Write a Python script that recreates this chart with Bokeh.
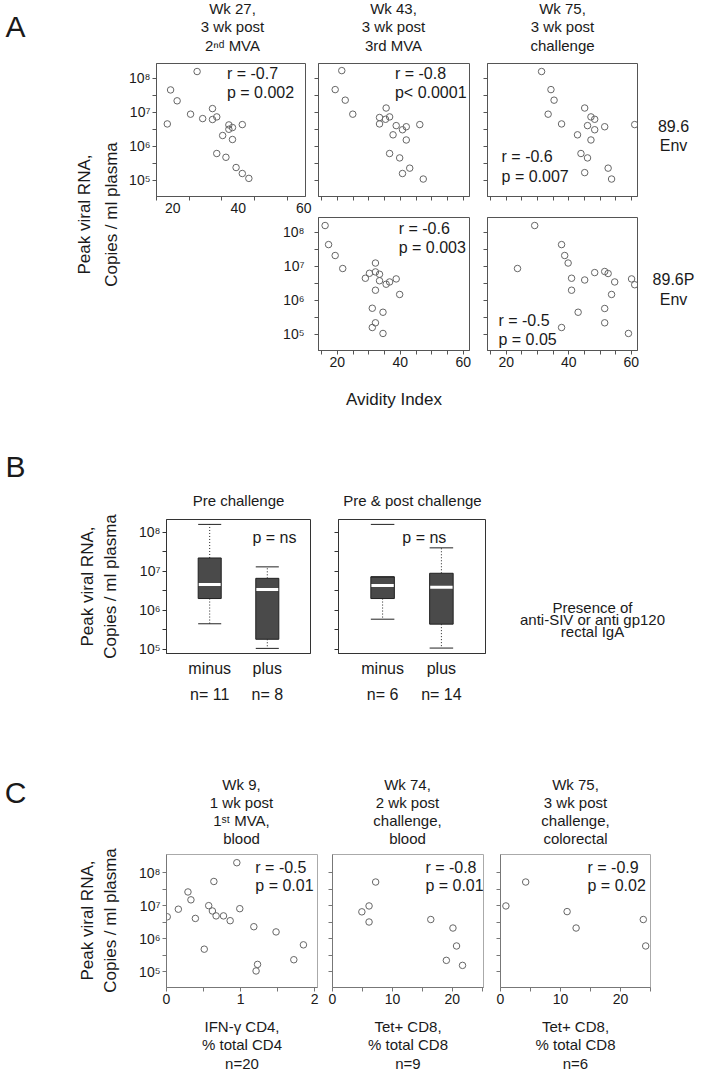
import math
from bokeh.plotting import figure
from bokeh.layouts import row, column
from bokeh.models import (Range1d, FactorRange, FixedTicker, Spacer, Label,
                          ColumnDataSource, CustomJSTickFormatter)
from bokeh.embed import file_html
from bokeh.resources import INLINE

FONT = "Liberation Sans"
TXT = "#1a1a1a"

# ---------------- data ----------------
# Panel A : avidity index vs peak viral RNA (copies / ml plasma)
a_wk27_896_avidity = [27.4, 19.3, 21.3, 18.3, 25.4, 29.1, 32.1, 32.1, 33.4, 35.2,
                      37.1, 37.1, 38.2, 38.2, 41.2, 33.4, 36.2, 39.3, 41.2, 43.2]
a_wk27_896_rna = [1.6e8, 4.6e7, 2.2e7, 4.6e6, 8.9e6, 6.6e6, 1.3e7, 6.2e6, 7.4e6, 2.1e6,
                  4.3e6, 3.2e6, 3.6e6, 1.6e6, 4.4e6, 6.2e5, 4.8e5, 2.4e5, 1.6e5, 1.15e5]

a_wk43_896_avidity = [21.4, 19.3, 22.5, 24.9, 35.5, 33.4, 33.4, 35.3, 36.6, 38.7,
                      40.7, 41.9, 37.7, 41.9, 46.2, 36.6, 39.8, 43.0, 40.7, 47.3]
a_wk43_896_rna = [1.7e8, 4.7e7, 2.3e7, 8.9e6, 1.35e7, 7.1e6, 4.6e6, 6.3e6, 7.4e6, 4.1e6,
                  3.1e6, 3.8e6, 2.2e6, 1.55e6, 4.4e6, 6.2e5, 4.6e5, 2.3e5, 1.6e5, 1.1e5]

a_wk75_896_avidity = [31.3, 34.3, 35.3, 33.4, 37.7, 45.1, 47.1, 48.3, 46.0, 48.3,
                      51.5, 61.1, 42.8, 47.1, 43.9, 46.0, 45.1, 52.6, 53.7]
a_wk75_896_rna = [1.6e8, 4.7e7, 2.3e7, 8.9e6, 4.6e6, 1.35e7, 7.4e6, 6.3e6, 4.1e6, 3.1e6,
                  3.8e6, 4.4e6, 2.2e6, 1.55e6, 6.2e5, 4.6e5, 1.7e5, 2.3e5, 1.1e5]

a_wk43_896p_avidity = [16.1, 17.2, 19.3, 21.7, 32.1, 30.2, 28.9, 32.1, 33.4, 33.4,
                       35.5, 36.6, 38.7, 32.1, 39.8, 31.1, 34.5, 32.1, 31.1, 34.5]
a_wk43_896p_rna = [1.6e8, 4.4e7, 2.1e7, 8.7e6, 1.26e7, 6.3e6, 4.5e6, 6.9e6, 5.9e6, 3.8e6,
                   3.0e6, 3.5e6, 4.3e6, 2.0e6, 1.5e6, 5.9e5, 4.5e5, 2.2e5, 1.6e5, 1.07e5]

a_wk75_896p_avidity = [29.1, 37.7, 38.7, 39.8, 23.6, 40.9, 40.9, 45.1, 48.3, 51.5,
                       52.6, 54.7, 60.1, 61.1, 53.7, 51.5, 43.0, 51.5, 37.7, 59.1]
a_wk75_896p_rna = [1.6e8, 4.4e7, 2.1e7, 1.26e7, 8.7e6, 4.5e6, 2.0e6, 4.0e6, 6.6e6, 7.1e6,
                   6.2e6, 3.5e6, 4.3e6, 2.9e6, 1.5e6, 5.8e5, 4.5e5, 2.2e5, 1.6e5, 1.07e5]

a_stats = [("r = -0.7", "p = 0.002"), ("r = -0.8", "p< 0.0001"), ("r = -0.6", "p = 0.007"),
           ("r = -0.6", "p = 0.003"), ("r = -0.5", "p = 0.05")]

# Panel B : box plots, presence of rectal IgA (minus / plus)
b_pre_groups = [("n= 11", "minus"), ("n= 8", "plus")]
b_pre_low = [4.5e5, 1.05e5]
b_pre_q1 = [2.0e6, 1.8e5]
b_pre_med = [4.6e6, 3.4e6]
b_pre_q3 = [2.2e7, 6.6e6]
b_pre_high = [1.6e8, 1.3e7]
b_pre_outlier_group = []
b_pre_outlier_rna = []

b_all_groups = [("n= 6", "minus"), ("n= 14", "plus")]
b_all_low = [5.9e5, 1.07e5]
b_all_q1 = [2.0e6, 4.4e5]
b_all_med = [4.3e6, 3.9e6]
b_all_q3 = [7.2e6, 8.9e6]
b_all_high = [7.2e6, 4.0e7]
b_all_outlier_group = [("n= 6", "minus")]
b_all_outlier_rna = [1.6e8]

# Panel C : cellular responses vs peak viral RNA
c_ifn_cd4 = [0.95, 0.64, 0.29, 0.33, 0.16, 0.01, 0.39, 0.57, 0.62, 0.67,
             0.77, 0.86, 0.99, 1.18, 1.48, 0.51, 1.23, 1.21, 1.72, 1.85]
c_ifn_rna = [2.0e8, 5.4e7, 2.6e7, 1.5e7, 7.8e6, 4.6e6, 4.1e6, 1.0e7, 6.9e6, 4.9e6,
             4.9e6, 3.5e6, 8.1e6, 2.3e6, 1.6e6, 4.8e5, 1.66e5, 1.05e5, 2.3e5, 6.5e5]
c_tet_blood = [7.2, 6.1, 4.9, 6.1, 16.4, 20.1, 20.7, 19.0, 21.7]
c_tet_blood_rna = [5.2e7, 9.8e6, 6.5e6, 3.2e6, 3.8e6, 2.1e6, 6.0e5, 2.2e5, 1.55e5]
c_tet_colo = [0.9, 4.2, 11.1, 12.6, 23.8, 24.2]
c_tet_colo_rna = [9.8e6, 5.2e7, 6.6e6, 2.1e6, 3.8e6, 6.0e5]

# ---------------- helpers ----------------
def text_fig(w, h):
    f = figure(width=w, height=h, x_range=Range1d(0, w), y_range=Range1d(h, 0),
               output_backend="svg", toolbar_location=None, min_border=0,
               x_axis_location=None, y_axis_location=None, outline_line_color=None)
    f.grid.visible = False
    return f


def put(f, x, y, txt, size=15, align="center", angle=0.0, baseline="middle"):
    f.add_layout(Label(x=x, y=y, text=txt, text_font=FONT, text_font_size=f"{size}px",
                       text_align=align, text_baseline=baseline, angle=angle,
                       text_color=TXT))


def log_formatter():
    return CustomJSTickFormatter(code="""
const s = {4:'\u2074', 5:'\u2075', 6:'\u2076', 7:'\u2077', 8:'\u2078', 9:'\u2079'};
const e = Math.round(Math.log10(tick));
return '10' + s[e];
""")


def log_ticker():
    return FixedTicker(ticks=[1e5, 1e6, 1e7, 1e8],
                       minor_ticks=[10 ** 5.5, 10 ** 6.5, 10 ** 7.5])


def style_axis(ax, col, labels, size="14px", tick=4, major_tick=None):
    ax.axis_line_color = col
    ax.major_tick_line_color = col
    ax.minor_tick_line_color = col
    ax.major_tick_out = tick if major_tick is None else major_tick
    ax.major_tick_in = 0
    ax.minor_tick_out = tick
    ax.minor_tick_in = 0
    ax.major_label_text_font = FONT
    if labels:
        ax.major_label_text_color = TXT
        ax.major_label_text_font_size = size
        ax.major_label_standoff = 2
    else:
        ax.formatter = CustomJSTickFormatter(code="return '';")
        ax.major_label_text_color = None
        ax.major_label_text_font_size = "0px"
        ax.major_label_standoff = 0


def panel(w, h, ml, mr, mt, mb, xr, yr, ylabels, xlabels, xticks, xminor,
          outline="#555", axcol="#555", xmajor_tick=None):
    p = figure(width=w, height=h, x_range=xr, y_range=yr, y_axis_type="log",
               output_backend="svg", toolbar_location=None,
               min_border_left=ml, min_border_right=mr,
               min_border_top=mt, min_border_bottom=mb)
    p.grid.visible = False
    p.outline_line_color = outline
    p.yaxis.ticker = log_ticker()
    p.yaxis.formatter = log_formatter()
    style_axis(p.yaxis[0], axcol, ylabels)
    if xticks is not None:
        p.xaxis.ticker = FixedTicker(ticks=xticks, minor_ticks=xminor)
        style_axis(p.xaxis[0], axcol, xlabels, major_tick=xmajor_tick)
    return p


def dots(p, x, y, col="#666"):
    p.scatter(x, y, marker="circle", size=6.5, fill_color=None, line_color=col, line_width=1)


def note(p, x, y, txt, align="left", size=16):
    p.add_layout(Label(x=x, y=y, text=txt, text_font=FONT, text_font_size=f"{size}px",
                       text_align=align, text_baseline="middle", text_color=TXT))


# ---------------- Panel A ----------------
A_X = (14, 62)
A1_X = (15, 60.5)
A_Y = (10 ** 4.528, 10 ** 8.44)
A_MINOR = [15, 25, 30, 35, 45, 50, 55]

LA = text_fig(126, 412)
put(LA, 15, 26, "A", size=30)
put(LA, 84, 214, "Peak viral RNA,", size=17, angle=math.pi / 2)
put(LA, 111, 214, "Copies / ml plasma", size=17, angle=math.pi / 2)

HA = text_fig(581, 56)
for cx, lines in [(106, ["Wk 27,", "3 wk post", "2\u207f\u1d48 MVA"]),
                  (267, ["Wk 43,", "3 wk post", "3rd MVA"]),
                  (436, ["Wk 75,", "3 wk post", "challenge"])]:
    for yy, t in zip([8, 26, 45], lines):
        put(HA, cx, yy, t, size=15)

A1 = panel(186, 165, 30, 7, 7, 25, Range1d(*A1_X), Range1d(*A_Y), True, True,
           [20, 40, 60], [15, 25, 35, 45, 55], xmajor_tick=0)
dots(A1, a_wk27_896_avidity, a_wk27_896_rna)
note(A1, 36.5, 10 ** 8.15, a_stats[0][0])
note(A1, 36.5, 10 ** 7.59, a_stats[0][1])

# y tick labels of the 89.6P row (they sit under the first panel's column)
YAX = figure(width=36, height=191, x_range=Range1d(0, 1),
             y_range=Range1d(10 ** 4.528, 10 ** 8.3224),
             y_axis_type="log", output_backend="svg", toolbar_location=None,
             x_axis_location=None, min_border_left=32, min_border_right=0,
             min_border_top=0, min_border_bottom=62, outline_line_color=None)
YAX.grid.visible = False
YAX.yaxis.ticker = log_ticker()
YAX.yaxis.formatter = log_formatter()
style_axis(YAX.yaxis[0], None, True, tick=0)
YAX.yaxis.major_label_standoff = 4

A2 = panel(166, 150, 6, 9, 7, 10, Range1d(*A_X), Range1d(*A_Y), False, False, [20, 40, 60], A_MINOR)
dots(A2, a_wk43_896_avidity, a_wk43_896_rna)
note(A2, 38.3, 10 ** 8.15, a_stats[1][0])
note(A2, 38.3, 10 ** 7.59, a_stats[1][1])

A3 = panel(169, 150, 9, 10, 7, 10, Range1d(*A_X), Range1d(*A_Y), False, False, [20, 40, 60], A_MINOR)
dots(A3, a_wk75_896_avidity, a_wk75_896_rna)
note(A3, 18.5, 10 ** 5.71, a_stats[2][0])
note(A3, 18.5, 10 ** 5.12, a_stats[2][1])

A4 = panel(166, 206, 6, 9, 11, 62, Range1d(*A_X), Range1d(*A_Y), False, True, [20, 40, 60], A_MINOR)
dots(A4, a_wk43_896p_avidity, a_wk43_896p_rna)
note(A4, 39.5, 10 ** 8.12, a_stats[3][0])
note(A4, 39.5, 10 ** 7.56, a_stats[3][1])
A4.xaxis.axis_label = "Avidity Index"
A4.xaxis.axis_label_text_font = FONT
A4.xaxis.axis_label_text_font_size = "17px"
A4.xaxis.axis_label_text_font_style = "normal"
A4.xaxis.axis_label_text_color = TXT
A4.xaxis.axis_label_standoff = 20

A5 = panel(169, 206, 9, 10, 11, 62, Range1d(*A_X), Range1d(*A_Y), False, True, [20, 40, 60], A_MINOR)
dots(A5, a_wk75_896p_avidity, a_wk75_896p_rna)
note(A5, 17.5, 10 ** 5.41, a_stats[4][0])
note(A5, 17.5, 10 ** 4.85, a_stats[4][1])

RA = text_fig(60, 356)
put(RA, 26, 69, "89.6", size=16)
put(RA, 26, 89, "Env", size=16)
put(RA, 26, 223, "89.6P", size=16)
put(RA, 26, 243, "Env", size=16)

col1 = column(A1, row(Spacer(width=150, height=191), YAX))
bandA = row(LA, column(HA, row(col1, column(A2, A4), column(A3, A5), RA)))

# ---------------- Panel B ----------------
B_Y = (10 ** 4.89, 10 ** 8.33)


def box_panel(w, ml, mr, groups, low, q1, med, q3, high, out_g, out_v, ylabels, ns_x):
    xr = FactorRange(factors=groups, group_padding=0, factor_padding=0,
                     range_padding=0.25, range_padding_units="absolute")
    p = panel(w, 200, ml, mr, 7, 59, xr, Range1d(*B_Y), ylabels, False, None, None,
              outline="#333", axcol="#333")
    ax = p.xaxis[0]
    ax.axis_line_color = "#333"
    ax.major_tick_out = 0
    ax.major_tick_in = 0
    ax.major_label_text_font = FONT
    ax.major_label_text_font_size = "16px"
    ax.major_label_text_color = TXT
    ax.major_label_standoff = 6
    ax.group_text_font = FONT
    ax.group_text_font_size = "16px"
    ax.group_text_font_style = "normal"
    ax.group_text_color = TXT
    ax.separator_line_color = None
    src = ColumnDataSource(dict(
        x=groups, low=low, q1=q1, med=med, q3=q3, high=high,
        xl=[g + (-0.2,) for g in groups], xr=[g + (0.2,) for g in groups],
        ml=[g + (-0.19,) for g in groups], mr=[g + (0.19,) for g in groups]))
    p.segment(x0="x", y0="q3", x1="x", y1="high", source=src, line_color="#222",
              line_dash="1 2", line_width=1)
    p.segment(x0="x", y0="q1", x1="x", y1="low", source=src, line_color="#222",
              line_dash="1 2", line_width=1)
    p.vbar(x="x", top="q3", bottom="q1", width=0.4, source=src, fill_color="#4a4a4a",
           line_color="#222")
    p.segment(x0="ml", y0="med", x1="mr", y1="med", source=src, line_color="white", line_width=3)
    p.segment(x0="xl", y0="high", x1="xr", y1="high", source=src, line_color="#222", line_width=1)
    p.segment(x0="xl", y0="low", x1="xr", y1="low", source=src, line_color="#222", line_width=1)
    if out_g:
        osrc = ColumnDataSource(dict(xl=[g + (-0.2,) for g in out_g],
                                     xr=[g + (0.2,) for g in out_g], v=out_v))
        p.segment(x0="xl", y0="v", x1="xr", y1="v", source=osrc, line_color="#222", line_width=1)
    note(p, ns_x, 10 ** 7.87, "p = ns", align="center")
    return p


LB = text_fig(136, 300)
put(LB, 15, 54, "B", size=30)
put(LB, 87, 174, "Peak viral RNA,", size=17, angle=math.pi / 2)
put(LB, 110, 174, "Copies / ml plasma", size=17, angle=math.pi / 2)

HB = text_fig(571, 100)
put(HB, 102, 88, "Pre challenge", size=15)
put(HB, 276, 88, "Pre & post challenge", size=15)

B1 = box_panel(188, 30, 14, b_pre_groups, b_pre_low, b_pre_q1, b_pre_med, b_pre_q3,
               b_pre_high, b_pre_outlier_group, b_pre_outlier_rna, True, 1.625)
B2 = box_panel(171, 14, 10, b_all_groups, b_all_low, b_all_q1, b_all_med, b_all_q3,
               b_all_high, b_all_outlier_group, b_all_outlier_rna, False, 1.21)

RB = text_fig(212, 200)
put(RB, 97, 131, "Presence of", size=15)
put(RB, 97, 149, "anti-SIV or anti gp120", size=15)
put(RB, 97, 167, "rectal IgA", size=15)

bandB = row(LB, column(HB, row(B1, B2, RB)))

# ---------------- Panel C ----------------
C_Y = (10 ** 4.52, 10 ** 8.55)


def c_panel(w, ml, mr, xr, ylabels, xticks, xminor, xlabel):
    p = panel(w, 227, ml, mr, 7, 87, Range1d(*xr), Range1d(*C_Y), ylabels, True, xticks, xminor,
              outline="#aaa", axcol="#777")
    p.xaxis.axis_label = xlabel
    p.xaxis.axis_label_text_font = FONT
    p.xaxis.axis_label_text_font_size = "15px"
    p.xaxis.axis_label_text_font_style = "normal"
    p.xaxis.axis_label_text_color = TXT
    p.xaxis.axis_label_text_line_height = 1.1
    p.xaxis.axis_label_standoff = 11
    return p


LC = text_fig(136, 362)
put(LC, 15, 80, "C", size=30)
put(LC, 87, 208, "Peak viral RNA,", size=17, angle=math.pi / 2)
put(LC, 110, 208, "Copies / ml plasma", size=17, angle=math.pi / 2)

HC = text_fig(571, 135)
for cx, lines in [(105, ["Wk 9,", "1 wk post", "1\u02e2\u1d57 MVA,", "blood"]),
                  (271, ["Wk 74,", "2 wk post", "challenge,", "blood"]),
                  (439, ["Wk 75,", "3 wk post", "challenge,", "colorectal"])]:
    for yy, t in zip([72, 90, 108, 126], lines):
        put(HC, cx, yy, t, size=15)

C1 = c_panel(189, 30, 8, (0, 2.04), True, [0, 1, 2], [0.5, 1.5],
             "IFN-\u03b3 CD4,\n% total CD4\nn=20")
dots(C1, c_ifn_cd4, c_ifn_rna)
note(C1, 1.20, 10 ** 8.15, "r = -0.5")
note(C1, 1.20, 10 ** 7.61, "p = 0.01")

C2 = c_panel(166, 7, 8, (0, 25.2), False, [0, 10, 20], [5, 15, 25],
             "Tet+ CD8,\n% total CD8\nn=9")
dots(C2, c_tet_blood, c_tet_blood_rna)
note(C2, 15.5, 10 ** 8.15, "r = -0.8")
note(C2, 15.5, 10 ** 7.61, "p = 0.01")

C3 = c_panel(169, 9, 10, (0, 25), False, [0, 10, 20], [5, 15, 25],
             "Tet+ CD8,\n% total CD8\nn=6")
dots(C3, c_tet_colo, c_tet_colo_rna)
note(C3, 14.5, 10 ** 8.15, "r = -0.9")
note(C3, 14.5, 10 ** 7.61, "p = 0.02")

bandC = row(LC, column(HC, row(C1, C2, C3, Spacer(width=47, height=227))))

page = column(bandA, bandB, bandC)

open("out.html", "w").write(file_html(page, INLINE))
